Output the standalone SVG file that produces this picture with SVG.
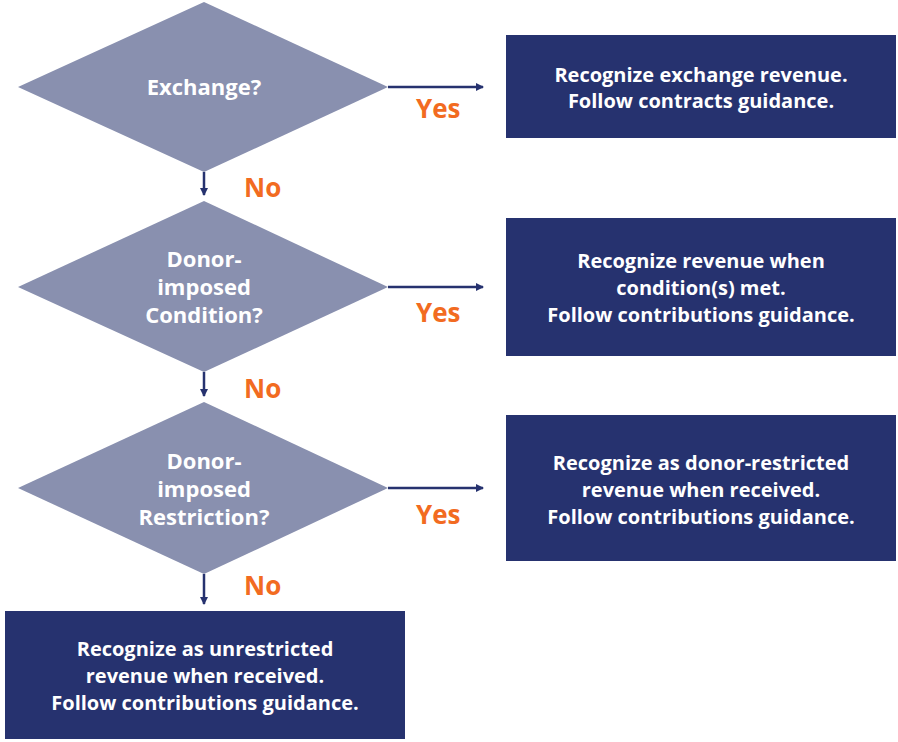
<svg xmlns="http://www.w3.org/2000/svg" width="898" height="742" viewBox="0 0 898 742">
<style>
.d{fill:#8990AF}
.b{fill:#26326F}
.t{font-family:"Open Sans","Liberation Sans",sans-serif;font-weight:bold;fill:#fff;text-anchor:middle;font-size:20px}
.dt{font-size:22px}
.l{font-family:"Open Sans","Liberation Sans",sans-serif;font-weight:bold;fill:#F26B21;font-size:26px}
.c{stroke:#26326F;stroke-width:2.5;fill:none;marker-end:url(#a)}
</style>
<defs><marker id="a" markerWidth="8" markerHeight="8" refX="7" refY="4" orient="auto" markerUnits="userSpaceOnUse"><path d="M0,0L8,4L0,8Z" fill="#26326F"/></marker></defs>
<rect width="898" height="742" fill="#fff"/>
<g id="connectors">
<path class="c" d="M388,87H483"/><path class="c" d="M388,287H483"/><path class="c" d="M388,488H483"/>
<path class="c" d="M204,172V195"/><path class="c" d="M204,372V396"/><path class="c" d="M204,574V604"/>
<text class="l" x="416" y="118">Yes</text><text class="l" x="416" y="322">Yes</text><text class="l" x="416" y="524">Yes</text>
<text class="l" x="244" y="197">No</text><text class="l" x="244" y="398">No</text><text class="l" x="244" y="595">No</text>
</g>
<g id="d1"><polygon class="d" points="204,2 388,87 204,172 18,87"/><text class="t dt" x="204" y="95">Exchange?</text></g>
<g id="d2"><polygon class="d" points="204,201 388,287 204,372 18,287"/><text class="t dt" x="204" y="267">Donor-</text><text class="t dt" x="204" y="295">imposed</text><text class="t dt" x="204" y="323">Condition?</text></g>
<g id="d3"><polygon class="d" points="204,402 388,488 204,574 18,488"/><text class="t dt" x="204" y="469">Donor-</text><text class="t dt" x="204" y="497">imposed</text><text class="t dt" x="204" y="525">Restriction?</text></g>
<g id="b1"><rect class="b" x="506" y="35" width="390" height="103"/><text class="t" x="701" y="82">Recognize exchange revenue.</text><text class="t" x="701" y="108">Follow contracts guidance.</text></g>
<g id="b2"><rect class="b" x="506" y="218" width="390" height="138"/><text class="t" x="701" y="268">Recognize revenue when</text><text class="t" x="701" y="295">condition(s) met.</text><text class="t" x="701" y="322">Follow contributions guidance.</text></g>
<g id="b3"><rect class="b" x="506" y="415" width="390" height="146"/><text class="t" x="701" y="470">Recognize as donor-restricted</text><text class="t" x="701" y="497">revenue when received.</text><text class="t" x="701" y="524">Follow contributions guidance.</text></g>
<g id="b4"><rect class="b" x="5" y="611" width="400" height="128"/><text class="t" x="205" y="656">Recognize as unrestricted</text><text class="t" x="205" y="683">revenue when received.</text><text class="t" x="205" y="710">Follow contributions guidance.</text></g>
</svg>
